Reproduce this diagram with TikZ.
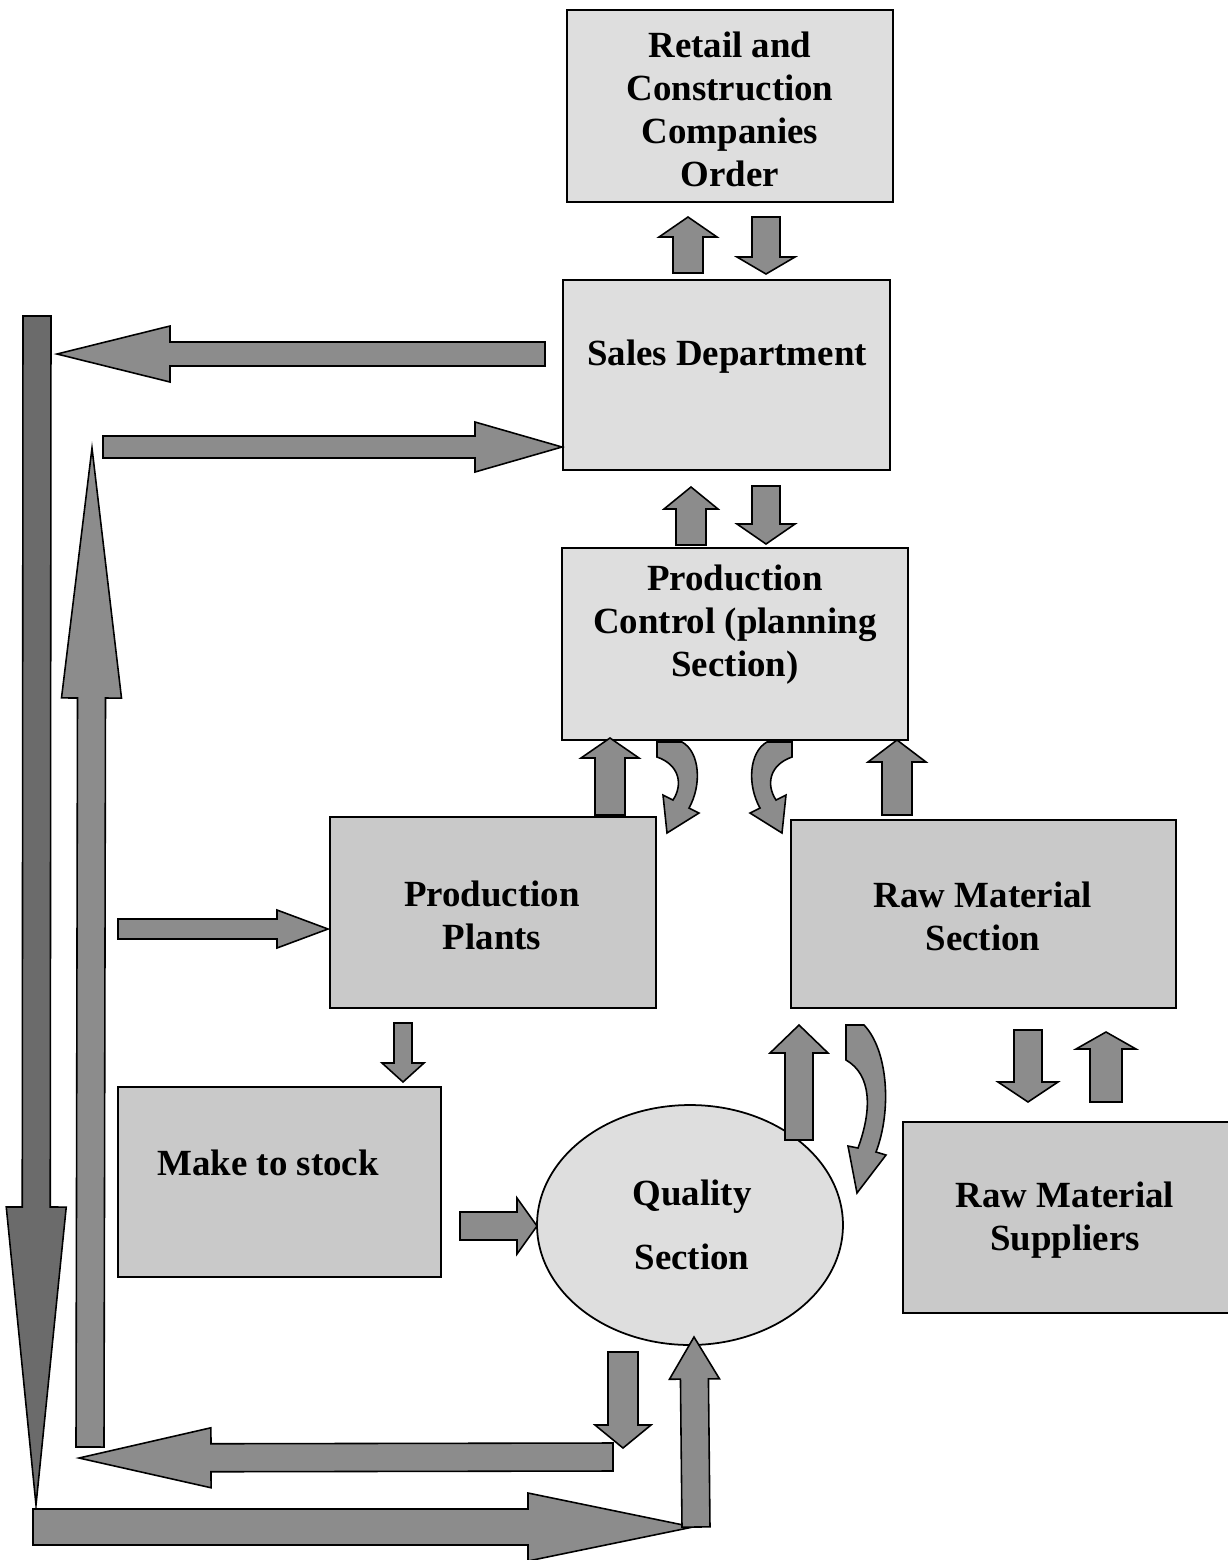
\documentclass[tikz,border=0pt]{standalone}
\usepackage{fontspec}
\setmainfont{Liberation Serif}
\usetikzlibrary{calc,shapes.geometric}
\tikzset{
  box/.style={draw=black,line width=1pt,fill=black!13,inner sep=0pt},
  darkbox/.style={box,fill=black!21},
  boxtxt/.style={font=\bfseries\fontsize{21}{24.5}\selectfont,align=center,inner sep=0pt},
  blockarr/.style={draw=black,line width=0.9pt,fill=black!45,line join=miter},
  darkarr/.style={fill=black!58},
}
% block arrow: [style]{from}{to}{shaft half}{head half}{head length}
\newcommand{\blockarrow}[6][]{%
  \coordinate (ba-s) at #2;
  \coordinate (ba-e) at #3;
  \coordinate (ba-h) at ($(ba-e)!#6*0.02cm!(ba-s)$);
  \filldraw[blockarr,#1] ($(ba-s)!#4*0.02cm!90:(ba-e)$)
    -- ($(ba-h)!#4*0.02cm!90:(ba-e)$)
    -- ($(ba-h)!#5*0.02cm!90:(ba-e)$)
    -- (ba-e)
    -- ($(ba-h)!#5*0.02cm!-90:(ba-e)$)
    -- ($(ba-h)!#4*0.02cm!-90:(ba-e)$)
    -- ($(ba-s)!#4*0.02cm!-90:(ba-e)$) -- cycle;
}

\begin{document}
\begin{tikzpicture}[x=0.02cm,y=-0.02cm]
  \clip (0,0) rectangle (1228,1560);

  % boxes
  \node[box,minimum width=6.52cm,minimum height=3.84cm] (retail) at (730,106) {};
  \node[box,minimum width=6.54cm,minimum height=3.80cm] (sales) at (726.5,375) {};
  \node[box,minimum width=6.92cm,minimum height=3.84cm] (control) at (735,644) {};
  \node[darkbox,minimum width=6.52cm,minimum height=3.82cm] (plants) at (493,912.5) {};
  \node[darkbox,minimum width=7.70cm,minimum height=3.76cm] (rawsec) at (983.5,914) {};
  \node[darkbox,minimum width=6.46cm,minimum height=3.80cm] (stock) at (279.5,1182) {};
  \node[darkbox,minimum width=6.74cm,minimum height=3.82cm] (suppl) at (1071.5,1217.5) {};
  \node[box,ellipse,minimum width=6.12cm,minimum height=4.8cm] (quality) at (690,1225) {};

  % texts
  \node[boxtxt] (retail-t) at (730,109) {Retail and\\Construction\\Companies\\Order};
  \node[boxtxt] (sales-t) at (727,357) {Sales Department};
  \node[boxtxt] (control-t) at (735,625) {Production\\Control (planning\\Section)};
  \node[boxtxt] (plants-t) at (492,915) {Production\\Plants};
  \node[boxtxt] (rawsec-t) at (983,916) {Raw Material\\Section};
  \node[boxtxt] (stock-t) at (268,1163) {Make to stock};
  \node[boxtxt] (suppl-t) at (1065,1220) {Raw Material\\Suppliers};
  \node[boxtxt,font=\bfseries\fontsize{21}{36.4}\selectfont] (quality-t) at (692,1225) {Quality\\Section};

  % long loop on the left
  \blockarrow[darkarr]{(37,316)}{(36,1505)}{14}{30}{298}
  \blockarrow{(545,354)}{(57,354)}{12}{28}{113}
  \blockarrow{(90,1447)}{(92,448)}{14}{30}{250}
  \blockarrow{(103,447)}{(562,447)}{11}{25}{87}
  \blockarrow{(33,1527)}{(693,1527)}{18}{34}{165}
  \blockarrow{(613,1457)}{(79,1458)}{14}{30}{132}
  \blockarrow{(623,1352)}{(623,1448)}{15}{28}{23}
  \blockarrow{(696,1527)}{(694,1337)}{14}{25}{42}
  \blockarrow{(118,929)}{(328,929)}{10}{19}{51}

  % between boxes
  \blockarrow{(688,273)}{(688,217)}{15}{29}{20}
  \blockarrow{(766,217)}{(766,274)}{14}{29}{17}
  \blockarrow{(691,545)}{(691,487)}{15}{27}{22}
  \blockarrow{(766,486)}{(766,544)}{14}{29}{20}
  \blockarrow{(610,815)}{(610,738)}{15}{29}{20}
  \blockarrow{(897,815)}{(897,740)}{15}{29}{22}
  \blockarrow{(403,1023)}{(403,1082)}{9}{21}{19}
  \blockarrow{(460,1226)}{(537,1226)}{14}{28}{20}
  \blockarrow{(799,1140)}{(799,1025)}{14}{29}{28}
  \blockarrow{(1028,1030)}{(1028,1102)}{14}{30}{20}
  \blockarrow{(1106,1102)}{(1106,1032)}{16}{30}{17}

  % curved arrows
  \filldraw[blockarr] (657,742) -- (682,742) .. controls (700,752) and (702,785) .. (689,808)
    -- (699,813) -- (667,833) -- (663,795) -- (673,800) .. controls (683,785) and (680,765) .. (657,757) -- cycle;
  \filldraw[blockarr] (792,742) -- (767,742) .. controls (749,752) and (747,785) .. (760,808)
    -- (750,813) -- (782,833) -- (786,795) -- (776,800) .. controls (766,785) and (769,765) .. (792,757) -- cycle;
  \filldraw[blockarr] (846,1025) -- (864,1025) .. controls (888,1050) and (892,1110) .. (876,1152)
    -- (886,1155) -- (857,1193) -- (848,1146) -- (858,1148) .. controls (872,1110) and (872,1075) .. (846,1060) -- cycle;
\end{tikzpicture}
\end{document}
